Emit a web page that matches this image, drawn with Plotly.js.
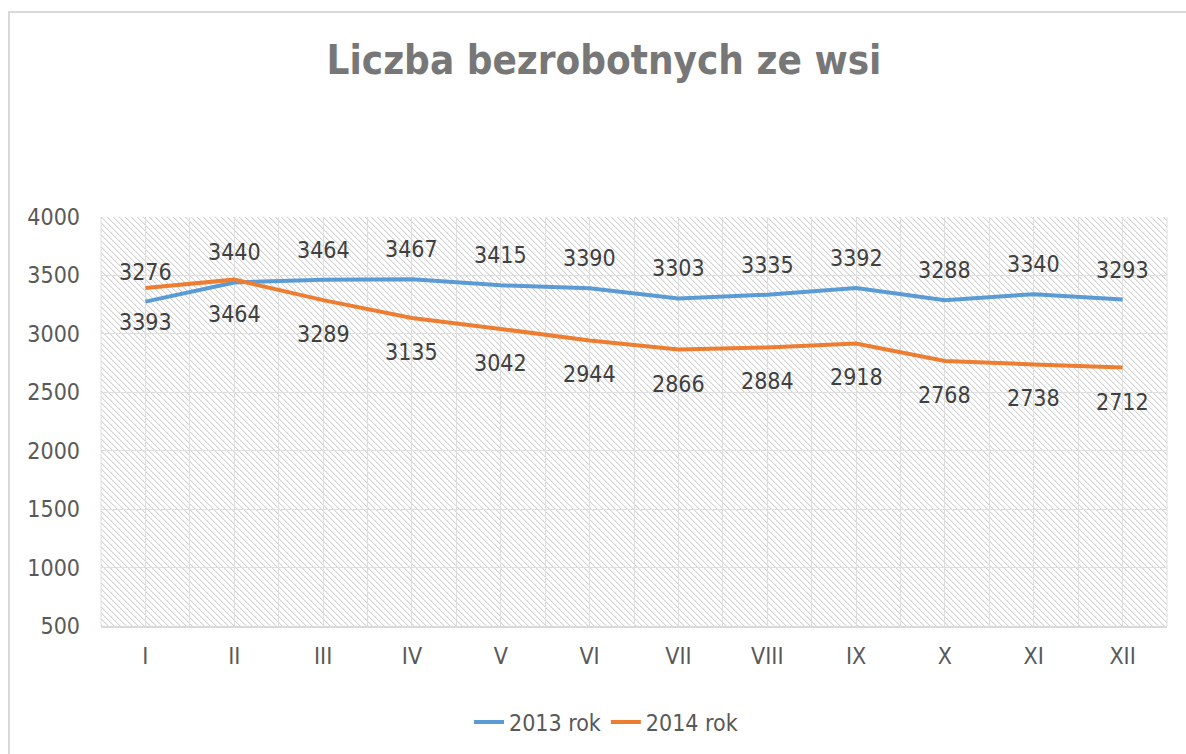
<!DOCTYPE html>
<html>
<head>
<meta charset="utf-8">
<script src="https://cdn.plot.ly/plotly-3.0.1.min.js"></script>
<style>
  html, body { margin: 0; padding: 0; background: #ffffff; overflow: hidden; }
  #wrap { position: relative; width: 1186px; height: 754px; }
  #frame { position: absolute; left: 8px; top: 11px; width: 1200px; height: 800px;
           border: 2px solid #d9d9d9; box-sizing: border-box; z-index: 1; }
  #hatch { position: absolute; z-index: 1; background-repeat: repeat; image-rendering: pixelated; }
  #chart { position: absolute; left: 0; top: 0; width: 1186px; height: 754px; z-index: 2; }
</style>
</head>
<body>
<div id="wrap">
  <div id="frame"></div>
  <div id="hatch"></div>
  <div id="chart"></div>
</div>
<script>
const months = ["I", "II", "III", "IV", "V", "VI", "VII", "VIII", "IX", "X", "XI", "XII"];
const series2013 = [3276, 3440, 3464, 3467, 3415, 3390, 3303, 3335, 3392, 3288, 3340, 3293];
const series2014 = [3393, 3464, 3289, 3135, 3042, 2944, 2866, 2884, 2918, 2768, 2738, 2712];
const seriesNames = ["2013 rok", "2014 rok"];
const yTicks = [500, 1000, 1500, 2000, 2500, 3000, 3500, 4000];

const FONT = "'Liberation Sans Narrow', 'DejaVu Sans Condensed', 'Liberation Sans', sans-serif";
const W = 1186, H = 754;
const M = { l: 101, r: 19, t: 217, b: 128 };

// diagonal hatch tile (background decoration of the plot area)
(function () {
  const T = 6;
  let rects = '';
  for (let i = 0; i < T; i++) {
    rects += `<rect x="${i}" y="${i}" width="1" height="1" fill="#d5d5d5"/>`;
    rects += `<rect x="${(i + 1) % T}" y="${i}" width="1" height="1" fill="#ededed"/>`;
  }
  const svg = `<svg xmlns="http://www.w3.org/2000/svg" width="${T}" height="${T}" shape-rendering="crispEdges"><rect width="${T}" height="${T}" fill="#ffffff"/>${rects}</svg>`;
  const hatch = document.getElementById('hatch');
  hatch.style.backgroundImage = `url("data:image/svg+xml;charset=utf-8,${encodeURIComponent(svg)}")`;
  hatch.style.left = M.l + 'px';
  hatch.style.top = M.t + 'px';
  hatch.style.width = (W - M.l - M.r) + 'px';
  hatch.style.height = (H - M.t - M.b) + 'px';
})();

const idx = months.map((_, i) => i);

const traces = [
  { x: idx, y: series2013, name: seriesNames[0], type: 'scatter', mode: 'lines',
    line: { color: '#5b9bd5', width: 4 }, hoverinfo: 'skip' },
  { x: idx, y: series2014, name: seriesNames[1], type: 'scatter', mode: 'lines',
    line: { color: '#ed7d31', width: 4 }, hoverinfo: 'skip' }
];

const LBL = { family: FONT, size: 23, color: '#404040' };
const annotations = [];
series2013.forEach((v, i) => annotations.push({
  x: i, y: v, xref: 'x', yref: 'y', text: String(v), showarrow: false,
  yshift: 30, font: LBL
}));
series2014.forEach((v, i) => annotations.push({
  x: i, y: v, xref: 'x', yref: 'y', text: String(v), showarrow: false,
  yshift: -34, font: LBL
}));

const layout = {
  width: W, height: H,
  margin: M,
  paper_bgcolor: 'rgba(0,0,0,0)',
  plot_bgcolor: 'rgba(0,0,0,0)',
  font: { family: FONT, size: 23, color: '#595959' },
  title: {
    text: '<b>Liczba bezrobotnych ze wsi</b>',
    font: { family: FONT, size: 40, color: '#777777' },
    x: 604 / W, xanchor: 'center', xref: 'container',
    y: 1 - 60 / H, yanchor: 'middle', yref: 'container'
  },
  xaxis: {
    range: [-0.5, 11.5],
    tickmode: 'array', tickvals: idx, ticktext: months,
    showgrid: true, gridcolor: '#dedede', gridwidth: 1,
    minor: { tickmode: 'linear', tick0: 0.5, dtick: 1, showgrid: true, gridcolor: '#dedede', gridwidth: 1 },
    showline: true, linecolor: '#d9d9d9', linewidth: 2, mirror: false,
    zeroline: false, ticks: '', ticklabelstandoff: 8,
    tickfont: { family: FONT, size: 23, color: '#595959' },
    fixedrange: true
  },
  yaxis: {
    range: [500, 4000],
    tickmode: 'array', tickvals: yTicks,
    showgrid: true, gridcolor: '#dedede', gridwidth: 1,
    showline: false, zeroline: false, ticks: '', ticklabelstandoff: 20,
    tickfont: { family: FONT, size: 23, color: '#595959' },
    fixedrange: true
  },
  shapes: [
    { type: 'line', xref: 'paper', yref: 'paper', x0: 1, x1: 1, y0: 0, y1: 1,
      line: { color: '#dedede', width: 1 } },
    { type: 'line', xref: 'paper', yref: 'paper', x0: 0, x1: 0, y0: 0, y1: 1,
      line: { color: '#dedede', width: 1 } }
  ],
  showlegend: true,
  legend: {
    orientation: 'h', x: 606 / W, xanchor: 'center', xref: 'container',
    y: 1 - 722 / H, yanchor: 'middle', yref: 'container',
    font: { family: FONT, size: 23, color: '#595959' },
    bgcolor: 'rgba(0,0,0,0)', itemwidth: 30
  },
  annotations: annotations
};

Plotly.newPlot('chart', traces, layout, { displayModeBar: false, staticPlot: true });
</script>
</body>
</html>
